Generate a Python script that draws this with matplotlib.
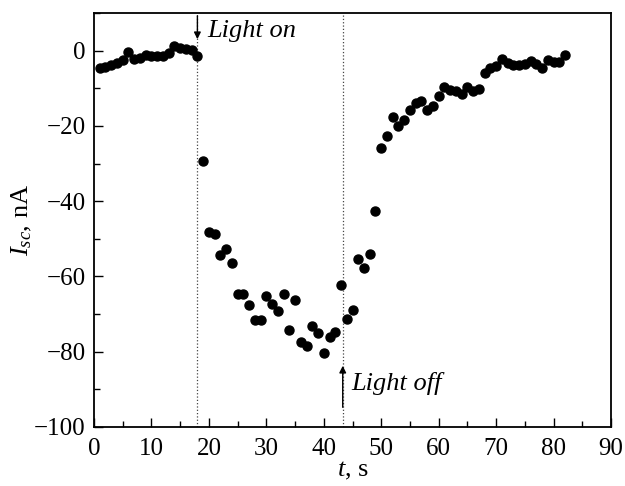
import matplotlib
matplotlib.use('Agg')
import matplotlib.pyplot as plt
from matplotlib.ticker import MultipleLocator

plt.rcParams['font.family'] = 'Liberation Serif'
plt.rcParams['mathtext.fontset'] = 'custom'
plt.rcParams['mathtext.rm'] = 'Liberation Serif'
plt.rcParams['mathtext.it'] = 'Liberation Serif:italic'

# time, s
t = list(range(1, 83))
# short-circuit current, nA
isc = [
    -4.7, -4.3, -3.8, -3.2, -2.4, -0.5, -2.1, -2.0, -1.2, -1.3,
    -1.4, -1.5, -0.6, 1.1, 0.8, 0.5, 0.2, -1.3,
    -29.2, -48.3, -48.7, -54.3, -52.7, -56.5, -64.6, -64.6, -67.6, -71.5,
    -71.7, -65.3, -67.3, -69.2, -64.6, -74.2, -66.2, -77.4, -78.5, -73.1,
    -75.1, -80.4, -76.0, -74.7, -62.3, -71.4, -68.9, -55.4, -57.8, -54.0,
    -42.7, -25.9, -22.7, -17.7, -19.9, -18.5, -15.7, -13.9, -13.5, -15.7,
    -14.6, -12.1, -9.7, -10.4, -10.8, -11.4, -9.7, -10.6, -10.1, -5.9,
    -4.6, -4.2, -2.2, -3.4, -3.7, -3.7, -3.6, -2.8, -3.6, -4.6,
    -2.4, -3.0, -3.0, -1.2,
]
light_on = 18
light_off = 43.3

fig = plt.figure(figsize=(6.25, 4.86), dpi=100)
ax = fig.add_axes([0.1504, 0.1214, 0.8272, 0.8519])

ax.axvline(light_on, color='#444444', ls=':', lw=0.9)
ax.axvline(light_off, color='#444444', ls=':', lw=0.9)
ax.plot(t, isc, 'o', color='black', markersize=6.5)

ax.annotate('', xy=(light_on, 2.3), xytext=(light_on, 10),
            arrowprops=dict(arrowstyle='-|>', color='black', lw=1.0,
                            mutation_scale=10))
ax.text(19.8, 5.2, 'Light on', style='italic', fontsize=19, va='center')
ax.annotate('', xy=(light_off, -83), xytext=(light_off, -95.5),
            arrowprops=dict(arrowstyle='-|>', color='black', lw=1.0,
                            mutation_scale=10))
ax.text(44.8, -88.5, 'Light off', style='italic', fontsize=19, va='center')

ax.set_xlim(0, 90)
ax.set_ylim(-100, 10)
ax.xaxis.set_major_locator(MultipleLocator(10))
ax.xaxis.set_minor_locator(MultipleLocator(5))
ax.yaxis.set_major_locator(MultipleLocator(20))
ax.yaxis.set_minor_locator(MultipleLocator(10))
ax.tick_params(which='both', direction='in', top=False, right=False,
               labelsize=18, width=1.0)
ax.tick_params(which='major', length=6.5)
ax.tick_params(which='minor', length=4)
ax.tick_params(axis='x', which='major', pad=8)
ax.tick_params(axis='y', which='major', pad=6)
for s in ax.spines.values():
    s.set_linewidth(1.3)

ax.set_xlabel(r'$t$, s', fontsize=19, labelpad=0)
ax.set_ylabel(r'$I_{sc}$, nA', fontsize=19, labelpad=0)

fig.savefig('out.png', dpi=100)
